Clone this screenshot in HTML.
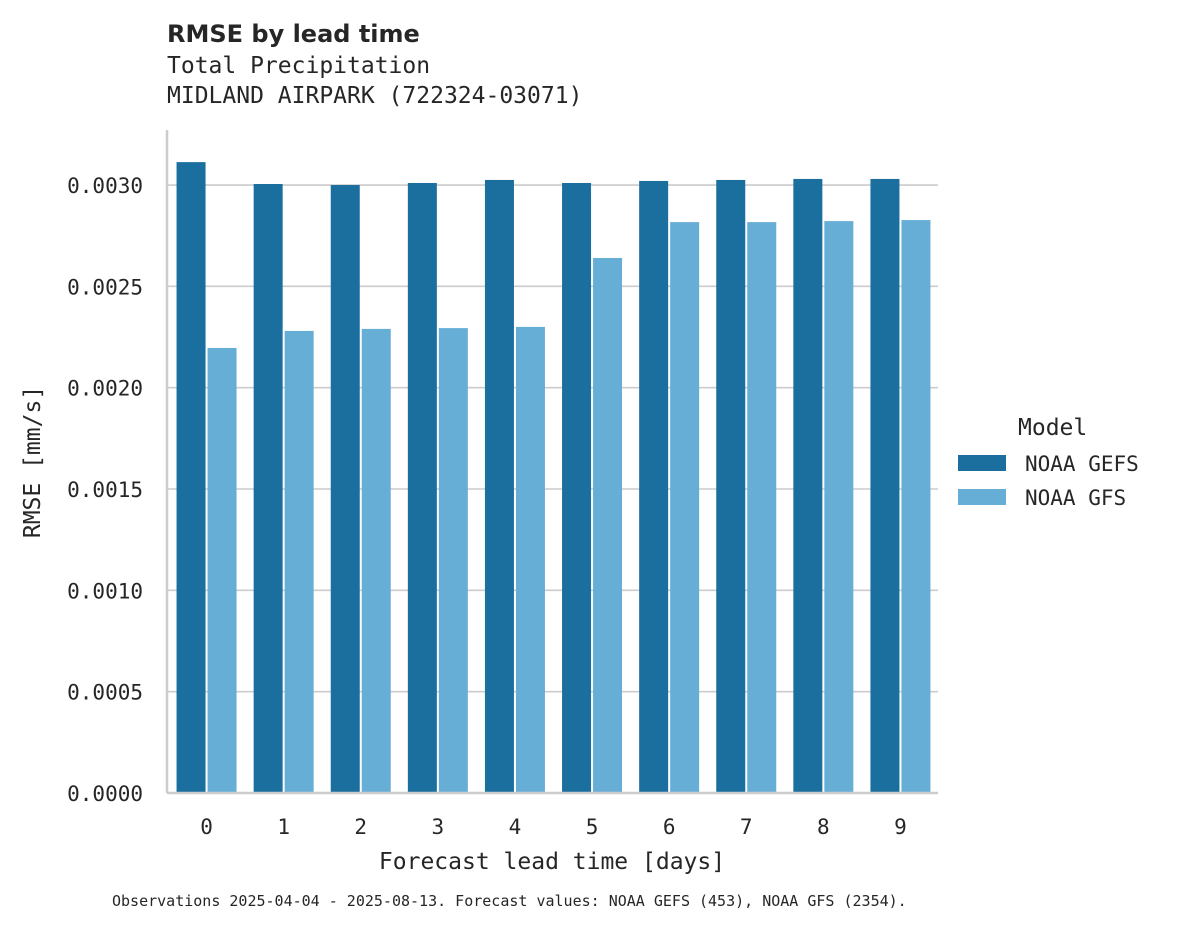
<!DOCTYPE html>
<html><head><meta charset="utf-8"><style>
body{margin:0;background:#fff;}
svg{display:block;}
.mono{font-family:"DejaVu Sans Mono","Liberation Mono",monospace;fill:#262626;}
</style></head><body>
<svg id="chart" width="1178" height="928" xmlns="http://www.w3.org/2000/svg">
<text x="167" y="42" font-family="DejaVu Sans, Liberation Sans, sans-serif" font-weight="bold" font-size="24" fill="#262626">RMSE by lead time</text>
<text class="mono" x="167" y="73" font-size="23">Total Precipitation</text>
<text class="mono" x="167" y="103" font-size="23">MIDLAND AIRPARK (722324-03071)</text>
<g id="grid"></g>
<g id="bars"></g>
<g id="axes"></g>
<text class="mono" font-size="23" text-anchor="middle" transform="translate(40,462) rotate(-90)">RMSE [mm/s]</text>
<text class="mono" font-size="23" text-anchor="middle" x="552" y="869">Forecast lead time [days]</text>
<text class="mono" font-size="23" x="1018" y="435">Model</text>
<rect x="958" y="455" width="48" height="16" fill="#1a6f9f"/>
<text class="mono" font-size="21" x="1025" y="471">NOAA GEFS</text>
<rect x="958" y="489" width="48" height="16" fill="#67aed6"/>
<text class="mono" font-size="21" x="1025" y="505">NOAA GFS</text>
<text class="mono" font-size="15" x="112" y="906">Observations 2025-04-04 - 2025-08-13. Forecast values: NOAA GEFS (453), NOAA GFS (2354).</text>
</svg>
<script>
const categories=["0","1","2","3","4","5","6","7","8","9"];
const gefs=[0.003113,0.003005,0.0030,0.00301,0.003025,0.00301,0.00302,0.003025,0.00303,0.00303];
const gfs=[0.002196,0.00228,0.00229,0.002294,0.0023,0.00264,0.002817,0.002817,0.002822,0.002827];
const yTicks=[0,0.0005,0.001,0.0015,0.002,0.0025,0.003];
const yTickLabels=["0.0000","0.0005","0.0010","0.0015","0.0020","0.0025","0.0030"];
const NS="http://www.w3.org/2000/svg";
const x0=167,x1=938,y0=793,yTop=130;
const yScale=v=>y0-v/0.0005*101.33;
const step=(x1-x0)/categories.length;
const xC=i=>x0+step*(i+0.5)+1;
function mk(t,a,p){const e=document.createElementNS(NS,t);for(const k in a)e.setAttribute(k,a[k]);p.appendChild(e);return e;}
const grid=document.getElementById('grid'),bars=document.getElementById('bars'),axes=document.getElementById('axes');
yTicks.forEach((v,i)=>{
 const y=yScale(v);
 if(v>0){const l=mk('line',{x1:x0,x2:x1,y1:y,y2:y,stroke:'#cccccc','stroke-width':1.6},grid);
 
 }
 const t=mk('text',{x:143,y:y+8,'text-anchor':'end','font-size':21,class:'mono'},axes);
 t.textContent=yTickLabels[i];
 
 
});
const bw=29;
categories.forEach((c,i)=>{
 const cx=xC(i);
 const b1=mk('rect',{x:cx-bw-1,y:yScale(gefs[i]),width:bw,height:y0-yScale(gefs[i]),fill:'#1a6f9f'},bars);
 
 
 const b2=mk('rect',{x:cx+1,y:yScale(gfs[i]),width:bw,height:y0-yScale(gfs[i]),fill:'#67aed6'},bars);
 
 
 const t=mk('text',{x:cx,y:834,'text-anchor':'middle','font-size':21,class:'mono'},axes);
 t.textContent=c;
 
 
});
const ax=mk('line',{x1:x0,x2:x0,y1:yTop,y2:y0,stroke:'#cccccc','stroke-width':2.5},axes);


const bx=mk('line',{x1:x0,x2:x1,y1:y0,y2:y0,stroke:'#cccccc','stroke-width':2.5},axes);


</script>
</body></html>
